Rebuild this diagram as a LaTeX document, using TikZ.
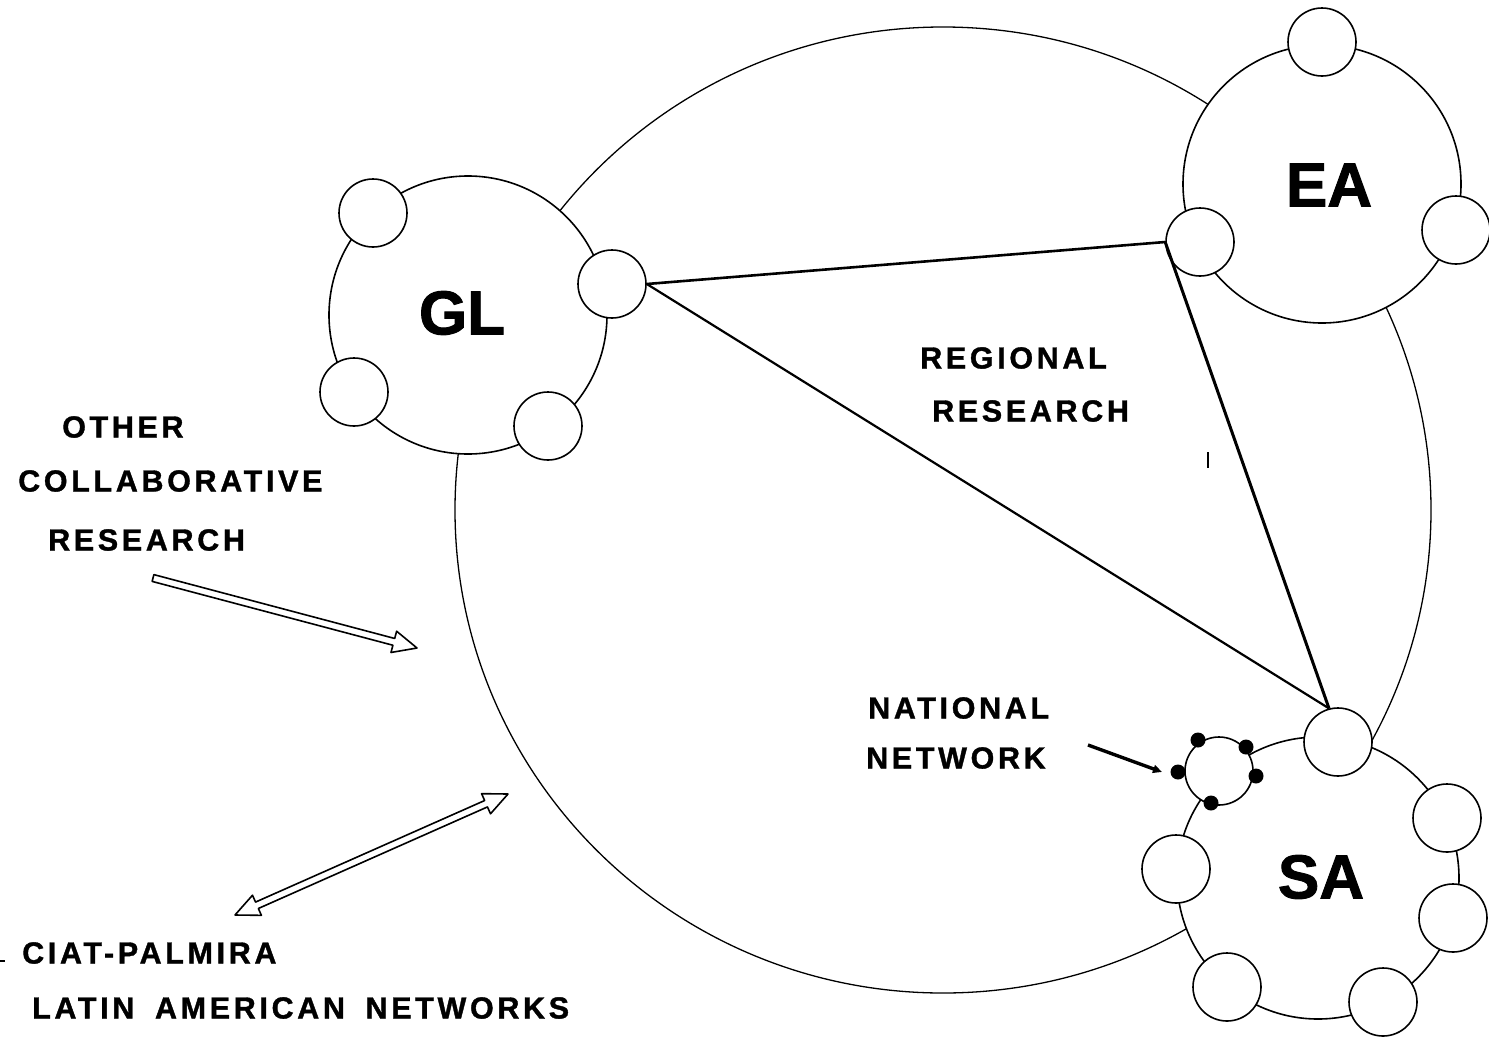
\documentclass[tikz,border=0pt]{standalone}
\usepackage{fontspec}
\setmainfont{Liberation Sans}
\newfontfamily\labfont{Liberation Sans}[LetterSpace=12,WordSpace=1.7,FakeBold=1.2]
\newfontfamily\bigfont{Liberation Sans}[FakeBold=1.5]
\usetikzlibrary{calc,shapes.geometric,arrows.meta}
\begin{document}
\begin{tikzpicture}[x=1pt,y=-1pt,
  ring/.style={circle,draw,line width=1.6pt,fill=white,minimum size=278pt,inner sep=0pt},
  sub/.style={circle,draw,line width=1.6pt,fill=white,minimum size=68pt,inner sep=0pt},
  dot/.style={circle,fill=black,minimum size=15pt,inner sep=0pt},
  biglab/.style={inner sep=0pt,font=\bigfont\bfseries\fontsize{62}{62}\selectfont},
  lab/.style={anchor=west,inner sep=0pt,font=\labfont\bfseries\fontsize{30.5}{36}\selectfont},
  link/.style={line width=2.6pt},
  hollow/.style={line width=1.6pt,fill=white,line join=round}]
\useasboundingbox (0,0) rectangle (1489,1039);

% large network outline
\node[ellipse,draw,line width=1.3pt,minimum width=976pt,minimum height=966pt,inner sep=0pt] (big) at (943,510) {};

% regional rings
\node[ring] (GL) at (468,315) {};
\node[ring] (EA) at (1322,184) {};
\node[ring,minimum size=282pt] (SA) at (1318,878) {};

% GL members
\node[sub] (g1) at (373,213) {};
\node[sub] (g2) at (612,284) {};
\node[sub] (g3) at (354,392) {};
\node[sub] (g4) at (548,426) {};
% EA members
\node[sub] (e1) at (1322,42) {};
\node[sub] (e2) at (1200,242) {};
\node[sub] (e3) at (1456,230) {};
% SA members
\node[sub] (s1) at (1338,742) {};
\node[sub] (s2) at (1447,818) {};
\node[sub] (s3) at (1453,918) {};
\node[sub] (s4) at (1383,1002) {};
\node[sub] (s5) at (1227,987) {};
\node[sub] (s6) at (1176,869) {};
% national network
\node[sub] (nat) at (1219,771) {};
\node[dot] (d1) at (1198,740) {};
\node[dot] (d2) at (1246,747) {};
\node[dot] (d3) at (1178,772) {};
\node[dot] (d4) at (1256,776) {};
\node[dot] (d5) at (1211,803) {};

% big labels
\node[biglab] (GLt) at (462,313) {GL};
\node[biglab] (EAt) at (1329,185) {EA};
\node[biglab] (SAt) at (1321,877) {SA};

% regional research triangle
\draw[link] (g2.east) -- (e2.west);
\draw[link,line width=3pt] (e2.west) -- (s1.105);
\draw[link,line width=2.2pt] (g2.east) -- (s1.105);

% text labels
\node[lab] (t1) at (62,427) {OTHER};
\node[lab] (t2) at (18,481) {COLLABORATIVE};
\node[lab] (t3) at (48,540) {RESEARCH};
\node[lab] (t4) at (920,358) {REGIONAL};
\node[lab] (t5) at (932,411) {RESEARCH};
\node[lab] (t6) at (868,708) {NATIONAL};
\node[lab] (t7) at (866,758) {NETWORK};
\node[lab] (t8) at (22,953) {CIAT-PALMIRA};
\node[lab] (t9) at (32,1008) {LATIN AMERICAN NETWORKS};

% national network pointer
\coordinate (n1) at (1088,745);
\coordinate (n2) at (1162,772);
\draw[line width=3.4pt,-{Triangle[length=9pt,width=8pt]}] (n1) -- (n2);

% hollow arrow: other collaborative research
\coordinate (a1) at (153,578);
\coordinate (b1) at (417,648);
\coordinate (h1) at ($(b1)!24pt!(a1)$);
\draw[hollow] ($(a1)!3.5pt!90:(b1)$) -- ($(h1)!3.5pt!-90:(a1)$) -- ($(h1)!11pt!-90:(a1)$) -- (b1)
  -- ($(h1)!11pt!90:(a1)$) -- ($(h1)!3.5pt!90:(a1)$) -- ($(a1)!3.5pt!-90:(b1)$) -- cycle;

% hollow double arrow: CIAT-Palmira
\coordinate (a2) at (235,915);
\coordinate (b2) at (508,794);
\coordinate (ha) at ($(a2)!24pt!(b2)$);
\coordinate (hb) at ($(b2)!24pt!(a2)$);
\draw[hollow] (a2) -- ($(ha)!11pt!90:(b2)$) -- ($(ha)!3.5pt!90:(b2)$) -- ($(hb)!3.5pt!-90:(a2)$)
  -- ($(hb)!11pt!-90:(a2)$) -- (b2) -- ($(hb)!11pt!90:(a2)$) -- ($(hb)!3.5pt!90:(a2)$)
  -- ($(ha)!3.5pt!-90:(b2)$) -- ($(ha)!11pt!-90:(b2)$) -- cycle;

% small marks
\coordinate (k1) at (1208,452);
\coordinate (k2) at (1208,468);
\draw[line width=1.6pt] (k1) -- (k2);
\coordinate (m1) at (0,961);
\coordinate (m2) at (5,961);
\draw[line width=1.2pt] (m1) -- (m2);
\end{tikzpicture}
\end{document}
